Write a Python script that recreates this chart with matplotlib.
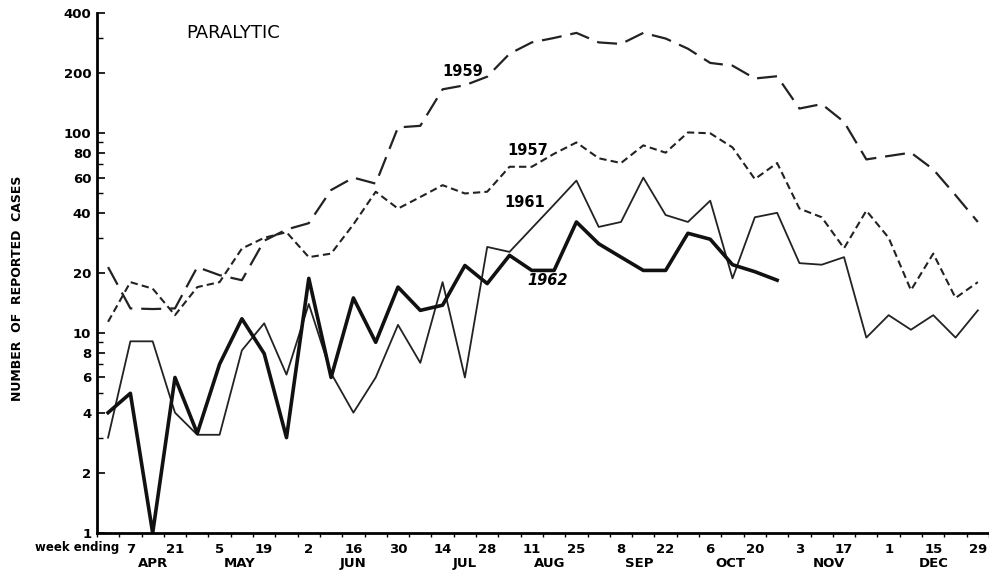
import matplotlib
matplotlib.use("Agg")
import matplotlib.pyplot as plt
import numpy as np

plt.rcParams['font.family'] = ['DejaVu Sans']

# week ending Mar 31 ... Dec 29 (40 weeks)
week_days = [31, 7, 14, 21, 28, 5, 12, 19, 26, 2, 9, 16, 23, 30, 7, 14, 21, 28, 4, 11,
             18, 25, 1, 8, 15, 22, 29, 6, 13, 20, 27, 3, 10, 17, 24, 1, 8, 15, 22, 29]
months = ["APR", "MAY", "JUN", "JUL", "AUG", "SEP", "OCT", "NOV", "DEC"]

cases_1959 = [21.4, 13.3, 13.2, 13.3, 21.4, 19.5, 18.4, 29, 33, 35.5,
              52, 60, 56, 107, 109, 166, 174, 192, 250, 285,
              300, 318, 285, 280, 318, 298, 265, 225, 218, 188,
              193, 133, 140, 114, 74, 77, 80, 66, 49, 36]
cases_1957 = [11.4, 18, 16.7, 12.3, 17, 18, 26.5, 30, 32, 24,
              25, 35, 51, 42, 48, 55, 50, 51, 68, 68,
              79, 90, 75, 71, 87, 80, 101, 100, 85, 59,
              71, 42, 38, 26.6, 41, 30, 16.4, 25, 15, 18]
cases_1961 = [3.0, 9.1, 9.1, 4.0, 3.1, 3.1, 8.2, 11.2, 6.2, 14,
              6.3, 4.0, 6.0, 11, 7.1, 18, 6.0, 27, 25.5, 33.5,
              44, 58, 34, 36, 60, 39, 36, 46, 18.8, 38,
              40, 22.4, 22, 24, 9.5, 12.3, 10.4, 12.3, 9.5, 13]
cases_1962 = [4.0, 5.0, 1.0, 6.0, 3.15, 7.0, 11.8, 7.9, 3.0, 18.8,
              6.0, 15, 9, 17, 13, 13.8, 21.8, 17.7, 24.5, 20.6,
              20.6, 36, 28, 24, 20.6, 20.6, 31.6, 29.5, 22, 20.3, 18.4]

yticks = [1, 2, 4, 6, 8, 10, 20, 40, 60, 80, 100, 200, 400]
yminor = [3, 5, 7, 9, 30, 50, 70, 90, 300]

fig = plt.figure(figsize=(9.89, 5.77), dpi=100)
ax = fig.add_axes([0.098, 0.0763, 0.902, 0.9012])

weeks = np.arange(len(week_days))
ax.plot(weeks, cases_1959, color='#222222', lw=1.6, dashes=(9, 4))
ax.plot(weeks, cases_1957, color='#222222', lw=1.5, dashes=(3.5, 2))
ax.plot(weeks, cases_1961, color='#222222', lw=1.3)
ax.plot(weeks[:len(cases_1962)], cases_1962, color='#111111', lw=2.6)

ax.set_yscale('log')
ax.set_ylim(1, 400)
ax.set_xlim(-0.38, 39.5)
ax.set_yticks(yticks)
ax.set_yticklabels([str(v) for v in yticks], fontsize=9.5, fontweight='bold')
ax.set_yticks(yminor, minor=True)
ax.yaxis.set_minor_formatter(matplotlib.ticker.NullFormatter())
ax.tick_params(axis='y', which='major', direction='in', length=6, width=1.2, pad=4)
ax.tick_params(axis='y', which='minor', direction='in', length=4, width=1.0)

ax.set_xticks(weeks[1::2])
ax.set_xticklabels([str(d) for d in week_days[1::2]], fontsize=9.5, fontweight='bold')
ax.set_xticks(np.arange(-0.5, 40, 1), minor=True)
ax.tick_params(axis='x', which='major', length=0, pad=7)
ax.tick_params(axis='x', which='minor', direction='out', length=3, width=1.0)

for s in ['top', 'right']:
    ax.spines[s].set_visible(False)
ax.spines['left'].set_linewidth(2)
ax.spines['bottom'].set_linewidth(2)

month_pos = [2, 5.9, 11, 16, 19.8, 23.8, 27.9, 32.3, 37]
for m, p in zip(months, month_pos):
    ax.text(p, -0.058, m, transform=ax.get_xaxis_transform(), ha='center', va='center',
            fontsize=9.5, fontweight='bold')
fig.text(35 / 989, 1 - 548 / 577, "week ending", ha='left', va='center',
         fontsize=8.5, fontweight='bold')

ax.set_ylabel("NUMBER  OF  REPORTED  CASES", fontsize=9, fontweight='bold', labelpad=14)
ax.yaxis.set_label_coords(-0.082, 0.47)

ax.text(5.6, 316, "PARALYTIC", fontsize=13, ha='center', va='center')
ax.text(15.9, 204, "1959", fontsize=10.5, fontweight='bold', ha='center', va='center')
ax.text(18.8, 82, "1957", fontsize=10.5, fontweight='bold', ha='center', va='center')
ax.text(18.7, 45, "1961", fontsize=10.5, fontweight='bold', ha='center', va='center')
ax.text(19.7, 18.4, "1962", fontsize=10.5, fontweight='bold', style='italic',
        ha='center', va='center')

fig.savefig("out.png", dpi=100)
